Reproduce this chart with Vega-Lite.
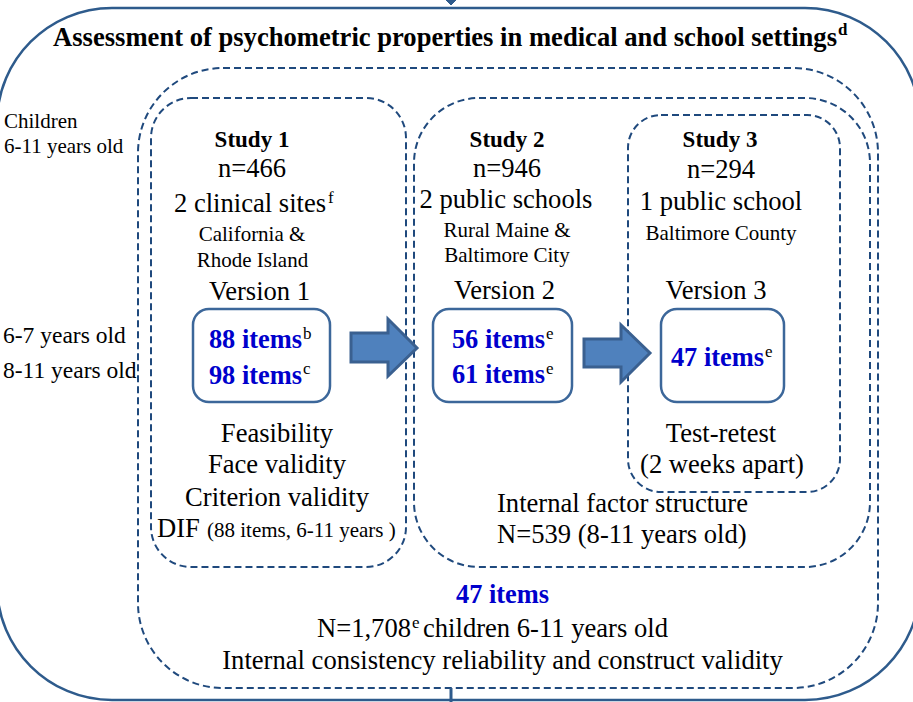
{
  "$schema": "https://vega.github.io/schema/vega-lite/v6.json",
  "width": 913,
  "height": 702,
  "autosize": {"type": "none"},
  "padding": 0,
  "background": "white",
  "config": {"view": {"stroke": null}, "text": {"font": "Liberation Serif, Times New Roman, serif", "baseline": "alphabetic"}},
  "datasets": {
    "boxes": [
      {"id": "outer", "x1": -3, "y1": 8, "x2": 920, "y2": 700},
      {"id": "all", "x1": 138, "y1": 68, "x2": 878, "y2": 688},
      {"id": "s1", "x1": 151, "y1": 98, "x2": 406, "y2": 567},
      {"id": "s2", "x1": 414, "y1": 98, "x2": 870, "y2": 567},
      {"id": "s3", "x1": 628, "y1": 115, "x2": 840, "y2": 492},
      {"id": "v", "x1": 193, "y1": 309, "x2": 330, "y2": 402},
      {"id": "v", "x1": 433, "y1": 309, "x2": 572, "y2": 402},
      {"id": "v", "x1": 661, "y1": 309, "x2": 784, "y2": 402}
    ],
    "arrows": [
      {"arrow": "a1", "k": 1, "x": 351, "y": 333},
      {"arrow": "a1", "k": 2, "x": 388, "y": 333},
      {"arrow": "a1", "k": 3, "x": 388, "y": 319},
      {"arrow": "a1", "k": 4, "x": 417, "y": 348},
      {"arrow": "a1", "k": 5, "x": 388, "y": 376},
      {"arrow": "a1", "k": 6, "x": 388, "y": 362},
      {"arrow": "a1", "k": 7, "x": 351, "y": 362},
      {"arrow": "a2", "k": 1, "x": 584, "y": 339},
      {"arrow": "a2", "k": 2, "x": 621, "y": 339},
      {"arrow": "a2", "k": 3, "x": 621, "y": 325},
      {"arrow": "a2", "k": 4, "x": 650, "y": 353},
      {"arrow": "a2", "k": 5, "x": 621, "y": 382},
      {"arrow": "a2", "k": 6, "x": 621, "y": 367},
      {"arrow": "a2", "k": 7, "x": 584, "y": 367}
    ],
    "heads": [
      {"k": 1, "x": 446, "y": 0},
      {"k": 2, "x": 456, "y": 0},
      {"k": 3, "x": 451, "y": 5}
    ],
    "links": [
      {"x": 451, "y": 688, "y2": 702}
    ],
    "labels": [
      {"role": "title", "x": 445, "y": 46, "text": "Assessment of psychometric properties in medical and school settings"},
      {"role": "titlesup", "x": 838, "y": 35, "text": "d"},
      {"role": "sideS", "x": 4, "y": 128, "text": "Children"},
      {"role": "sideS", "x": 4, "y": 153, "text": "6-11 years old"},
      {"role": "sideL", "x": 3, "y": 343, "text": "6-7 years old"},
      {"role": "sideL", "x": 3, "y": 378, "text": "8-11 years old"},
      {"role": "study", "x": 252, "y": 147, "text": "Study 1"},
      {"role": "study", "x": 507, "y": 147, "text": "Study 2"},
      {"role": "study", "x": 720, "y": 147, "text": "Study 3"},
      {"role": "body", "x": 252, "y": 177, "text": "n=466"},
      {"role": "body", "x": 507, "y": 177, "text": "n=946"},
      {"role": "body", "x": 721, "y": 178, "text": "n=294"},
      {"role": "body", "x": 250, "y": 212, "text": "2 clinical sites"},
      {"role": "body", "x": 506, "y": 208, "text": "2 public schools"},
      {"role": "body", "x": 721, "y": 210, "text": "1 public school"},
      {"role": "body", "x": 259.5, "y": 300, "text": "Version 1"},
      {"role": "body", "x": 504.5, "y": 299, "text": "Version 2"},
      {"role": "body", "x": 716, "y": 299, "text": "Version 3"},
      {"role": "body", "x": 277, "y": 442, "text": "Feasibility"},
      {"role": "body", "x": 277, "y": 473, "text": "Face validity"},
      {"role": "body", "x": 277, "y": 506, "text": "Criterion validity"},
      {"role": "body", "x": 721, "y": 442, "text": "Test-retest"},
      {"role": "body", "x": 722, "y": 473, "text": "(2 weeks apart)"},
      {"role": "body", "x": 502.5, "y": 669, "text": "Internal consistency reliability and construct validity"},
      {"role": "bodyL", "x": 157, "y": 537, "text": "DIF"},
      {"role": "bodyL", "x": 497, "y": 512, "text": "Internal factor structure"},
      {"role": "bodyL", "x": 497, "y": 543, "text": "N=539 (8-11 years old)"},
      {"role": "bodyL", "x": 423, "y": 637, "text": "children 6-11 years old"},
      {"role": "bodyR", "x": 411, "y": 637, "text": "N=1,708"},
      {"role": "small", "x": 252, "y": 241, "text": "California &"},
      {"role": "small", "x": 252.5, "y": 267, "text": "Rhode Island"},
      {"role": "small", "x": 507, "y": 237, "text": "Rural Maine &"},
      {"role": "small", "x": 507, "y": 262, "text": "Baltimore City"},
      {"role": "small", "x": 721, "y": 240, "text": "Baltimore County"},
      {"role": "smallL", "x": 207, "y": 537, "text": "(88 items, 6-11 years )"},
      {"role": "itemsR", "x": 302, "y": 348, "text": "88 items"},
      {"role": "itemsR", "x": 302, "y": 384, "text": "98 items"},
      {"role": "itemsR", "x": 545, "y": 348, "text": "56 items"},
      {"role": "itemsR", "x": 545, "y": 383, "text": "61 items"},
      {"role": "itemsR", "x": 764, "y": 366, "text": "47 items"},
      {"role": "items", "x": 502.5, "y": 603, "text": "47 items"},
      {"role": "sup", "x": 328, "y": 203, "text": "f"},
      {"role": "sup", "x": 303, "y": 339, "text": "b"},
      {"role": "sup", "x": 303, "y": 374, "text": "c"},
      {"role": "sup", "x": 546, "y": 339, "text": "e"},
      {"role": "sup", "x": 546, "y": 374, "text": "e"},
      {"role": "sup", "x": 765, "y": 357, "text": "e"},
      {"role": "sup", "x": 412, "y": 628, "text": "e"}
    ]
  },
  "layer": [
    {
      "data": {"name": "boxes"},
      "transform": [{"filter": "datum.id === 'outer'"}],
      "mark": {"type": "rect", "filled": false, "stroke": "#2e5b8c", "strokeWidth": 2.5, "cornerRadius": 115},
      "encoding": {
        "x": {"field": "x1", "type": "quantitative", "scale": {"domain": [0, 913], "nice": false, "zero": false}, "axis": null},
        "x2": {"field": "x2"},
        "y": {"field": "y1", "type": "quantitative", "scale": {"domain": [0, 702], "nice": false, "zero": false, "reverse": true}, "axis": null},
        "y2": {"field": "y2"}
      }
    },
    {
      "data": {"name": "boxes"},
      "transform": [{"filter": "datum.id === 'all'"}],
      "mark": {"type": "rect", "filled": false, "stroke": "#1f497d", "strokeWidth": 2, "strokeDash": [7, 4], "cornerRadius": 85},
      "encoding": {
        "x": {"field": "x1", "type": "quantitative", "axis": null},
        "x2": {"field": "x2"},
        "y": {"field": "y1", "type": "quantitative", "axis": null},
        "y2": {"field": "y2"}
      }
    },
    {
      "data": {"name": "boxes"},
      "transform": [{"filter": "datum.id === 's1'"}],
      "mark": {"type": "rect", "filled": false, "stroke": "#1f497d", "strokeWidth": 2, "strokeDash": [7, 4], "cornerRadius": 40},
      "encoding": {
        "x": {"field": "x1", "type": "quantitative", "axis": null},
        "x2": {"field": "x2"},
        "y": {"field": "y1", "type": "quantitative", "axis": null},
        "y2": {"field": "y2"}
      }
    },
    {
      "data": {"name": "boxes"},
      "transform": [{"filter": "datum.id === 's2'"}],
      "mark": {"type": "rect", "filled": false, "stroke": "#1f497d", "strokeWidth": 2, "strokeDash": [7, 4], "cornerRadius": 65},
      "encoding": {
        "x": {"field": "x1", "type": "quantitative", "axis": null},
        "x2": {"field": "x2"},
        "y": {"field": "y1", "type": "quantitative", "axis": null},
        "y2": {"field": "y2"}
      }
    },
    {
      "data": {"name": "boxes"},
      "transform": [{"filter": "datum.id === 's3'"}],
      "mark": {"type": "rect", "filled": false, "stroke": "#1f497d", "strokeWidth": 2, "strokeDash": [7, 4], "cornerRadius": 33},
      "encoding": {
        "x": {"field": "x1", "type": "quantitative", "axis": null},
        "x2": {"field": "x2"},
        "y": {"field": "y1", "type": "quantitative", "axis": null},
        "y2": {"field": "y2"}
      }
    },
    {
      "data": {"name": "boxes"},
      "transform": [{"filter": "datum.id === 'v'"}],
      "mark": {"type": "rect", "filled": false, "stroke": "#3c679a", "strokeWidth": 2.5, "cornerRadius": 16},
      "encoding": {
        "x": {"field": "x1", "type": "quantitative", "axis": null},
        "x2": {"field": "x2"},
        "y": {"field": "y1", "type": "quantitative", "axis": null},
        "y2": {"field": "y2"}
      }
    },
    {
      "data": {"name": "arrows"},
      "mark": {"type": "line", "interpolate": "linear-closed", "fill": "#4f81bd", "stroke": "#3a6090", "strokeWidth": 3, "strokeJoin": "miter"},
      "encoding": {
        "x": {"field": "x", "type": "quantitative", "axis": null},
        "y": {"field": "y", "type": "quantitative", "axis": null},
        "order": {"field": "k", "type": "quantitative"},
        "detail": {"field": "arrow", "type": "nominal"}
      }
    },
    {
      "data": {"name": "heads"},
      "mark": {"type": "line", "interpolate": "linear-closed", "fill": "#2e5b8c", "stroke": "#2e5b8c", "strokeWidth": 1},
      "encoding": {
        "x": {"field": "x", "type": "quantitative", "axis": null},
        "y": {"field": "y", "type": "quantitative", "axis": null},
        "order": {"field": "k", "type": "quantitative"}
      }
    },
    {
      "data": {"name": "links"},
      "mark": {"type": "rule", "stroke": "#2e5b8c", "strokeWidth": 3},
      "encoding": {
        "x": {"field": "x", "type": "quantitative", "axis": null},
        "y": {"field": "y", "type": "quantitative", "axis": null},
        "y2": {"field": "y2"}
      }
    },
    {
      "data": {"name": "labels"},
      "transform": [{"filter": "datum.role === 'title'"}],
      "mark": {"type": "text", "font": "Liberation Serif", "fontSize": 26.6, "fontWeight": "bold", "align": "center", "color": "#000000"},
      "encoding": {
        "x": {"field": "x", "type": "quantitative", "axis": null},
        "y": {"field": "y", "type": "quantitative", "axis": null},
        "text": {"field": "text"}
      }
    },
    {
      "data": {"name": "labels"},
      "transform": [{"filter": "datum.role === 'titlesup'"}],
      "mark": {"type": "text", "font": "Liberation Serif", "fontSize": 17, "fontWeight": "bold", "align": "left", "color": "#000000"},
      "encoding": {
        "x": {"field": "x", "type": "quantitative", "axis": null},
        "y": {"field": "y", "type": "quantitative", "axis": null},
        "text": {"field": "text"}
      }
    },
    {
      "data": {"name": "labels"},
      "transform": [{"filter": "datum.role === 'sideS'"}],
      "mark": {"type": "text", "font": "Liberation Serif", "fontSize": 21, "align": "left", "color": "#000000"},
      "encoding": {
        "x": {"field": "x", "type": "quantitative", "axis": null},
        "y": {"field": "y", "type": "quantitative", "axis": null},
        "text": {"field": "text"}
      }
    },
    {
      "data": {"name": "labels"},
      "transform": [{"filter": "datum.role === 'sideL'"}],
      "mark": {"type": "text", "font": "Liberation Serif", "fontSize": 23.5, "align": "left", "color": "#000000"},
      "encoding": {
        "x": {"field": "x", "type": "quantitative", "axis": null},
        "y": {"field": "y", "type": "quantitative", "axis": null},
        "text": {"field": "text"}
      }
    },
    {
      "data": {"name": "labels"},
      "transform": [{"filter": "datum.role === 'study'"}],
      "mark": {"type": "text", "font": "Liberation Serif", "fontSize": 23, "fontWeight": "bold", "align": "center", "color": "#000000"},
      "encoding": {
        "x": {"field": "x", "type": "quantitative", "axis": null},
        "y": {"field": "y", "type": "quantitative", "axis": null},
        "text": {"field": "text"}
      }
    },
    {
      "data": {"name": "labels"},
      "transform": [{"filter": "datum.role === 'body'"}],
      "mark": {"type": "text", "font": "Liberation Serif", "fontSize": 26.6, "align": "center", "color": "#000000"},
      "encoding": {
        "x": {"field": "x", "type": "quantitative", "axis": null},
        "y": {"field": "y", "type": "quantitative", "axis": null},
        "text": {"field": "text"}
      }
    },
    {
      "data": {"name": "labels"},
      "transform": [{"filter": "datum.role === 'bodyL'"}],
      "mark": {"type": "text", "font": "Liberation Serif", "fontSize": 26.6, "align": "left", "color": "#000000"},
      "encoding": {
        "x": {"field": "x", "type": "quantitative", "axis": null},
        "y": {"field": "y", "type": "quantitative", "axis": null},
        "text": {"field": "text"}
      }
    },
    {
      "data": {"name": "labels"},
      "transform": [{"filter": "datum.role === 'bodyR'"}],
      "mark": {"type": "text", "font": "Liberation Serif", "fontSize": 26.6, "align": "right", "color": "#000000"},
      "encoding": {
        "x": {"field": "x", "type": "quantitative", "axis": null},
        "y": {"field": "y", "type": "quantitative", "axis": null},
        "text": {"field": "text"}
      }
    },
    {
      "data": {"name": "labels"},
      "transform": [{"filter": "datum.role === 'small'"}],
      "mark": {"type": "text", "font": "Liberation Serif", "fontSize": 21, "align": "center", "color": "#000000"},
      "encoding": {
        "x": {"field": "x", "type": "quantitative", "axis": null},
        "y": {"field": "y", "type": "quantitative", "axis": null},
        "text": {"field": "text"}
      }
    },
    {
      "data": {"name": "labels"},
      "transform": [{"filter": "datum.role === 'smallL'"}],
      "mark": {"type": "text", "font": "Liberation Serif", "fontSize": 21, "align": "left", "color": "#000000"},
      "encoding": {
        "x": {"field": "x", "type": "quantitative", "axis": null},
        "y": {"field": "y", "type": "quantitative", "axis": null},
        "text": {"field": "text"}
      }
    },
    {
      "data": {"name": "labels"},
      "transform": [{"filter": "datum.role === 'itemsR'"}],
      "mark": {"type": "text", "font": "Liberation Serif", "fontSize": 26.4, "fontWeight": "bold", "align": "right", "color": "#0000cc"},
      "encoding": {
        "x": {"field": "x", "type": "quantitative", "axis": null},
        "y": {"field": "y", "type": "quantitative", "axis": null},
        "text": {"field": "text"}
      }
    },
    {
      "data": {"name": "labels"},
      "transform": [{"filter": "datum.role === 'items'"}],
      "mark": {"type": "text", "font": "Liberation Serif", "fontSize": 26.4, "fontWeight": "bold", "align": "center", "color": "#0000cc"},
      "encoding": {
        "x": {"field": "x", "type": "quantitative", "axis": null},
        "y": {"field": "y", "type": "quantitative", "axis": null},
        "text": {"field": "text"}
      }
    },
    {
      "data": {"name": "labels"},
      "transform": [{"filter": "datum.role === 'sup'"}],
      "mark": {"type": "text", "font": "Liberation Serif", "fontSize": 17, "align": "left", "color": "#000000"},
      "encoding": {
        "x": {"field": "x", "type": "quantitative", "axis": null},
        "y": {"field": "y", "type": "quantitative", "axis": null},
        "text": {"field": "text"}
      }
    }
  ]
}
